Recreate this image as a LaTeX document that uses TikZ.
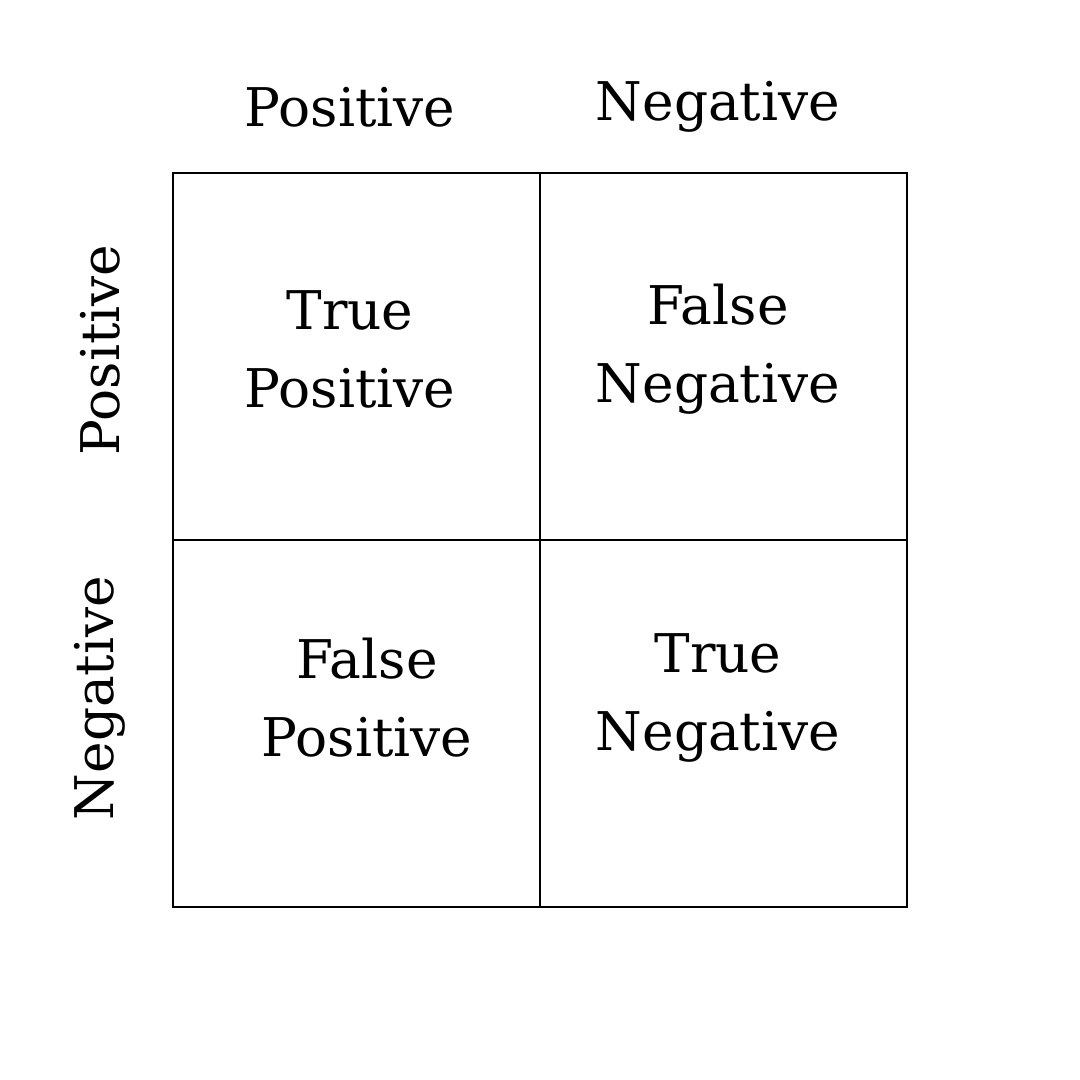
\documentclass[tikz,border=0pt]{standalone}
\usepackage{fontspec}
\setmainfont{DejaVu Serif}
\begin{document}
\begin{tikzpicture}[x=0.75pt,y=-0.75pt,
  lab/.style={font=\fontsize{40}{58.5}\selectfont,align=center,inner sep=0pt},
  cell/.style={draw=black,line width=0.9pt,minimum size=275.25pt,inner sep=0pt}]
\useasboundingbox (0,0) rectangle (1080,1080);
\node[cell] (c11) at (356.5,356.5) {};
\node[cell] (c12) at (723.5,356.5) {};
\node[cell] (c21) at (356.5,723.5) {};
\node[cell] (c22) at (723.5,723.5) {};
\node[lab] (h1) at (350,107) {Positive};
\node[lab] (h2) at (718,107) {Negative};
\node[lab,rotate=90] (r1) at (100,350) {Positive};
\node[lab,rotate=90] (r2) at (100,698) {Negative};
\node[lab] (tp) at (350,349) {True\\Positive};
\node[lab] (fn) at (718,349) {False\\Negative};
\node[lab] (fp) at (367,698) {False\\Positive};
\node[lab] (tn) at (718,698) {True\\Negative};
\end{tikzpicture}
\end{document}
